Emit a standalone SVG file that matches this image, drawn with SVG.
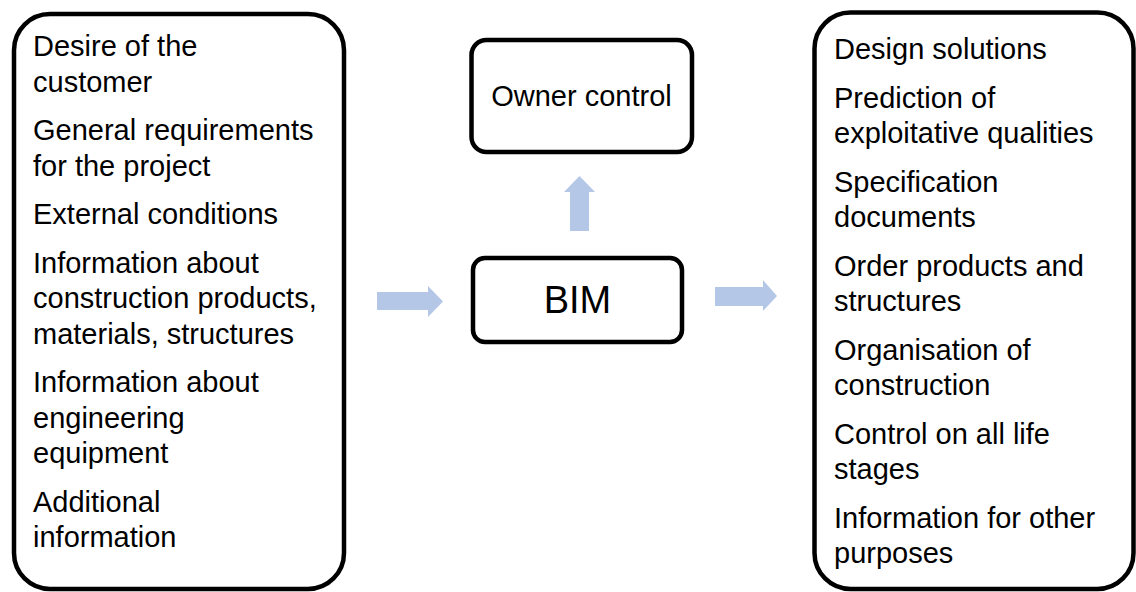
<svg xmlns="http://www.w3.org/2000/svg" width="1136" height="592" viewBox="0 0 1136 592">
<style>
.box{fill:#fff;stroke:#000;stroke-width:4.5}
.t{font-family:"Liberation Sans",Arial,sans-serif;font-size:29px;fill:#000}
.arr{fill:#B4C7E7}
</style>
<rect width="1136" height="592" fill="#fff"/>
<g id="inputs">
<rect class="box" x="14" y="14" width="330" height="575" rx="36"/>
<text class="t" x="33" y="56">Desire of the</text>
<text class="t" x="33" y="91.5">customer</text>
<text class="t" x="33" y="140">General requirements</text>
<text class="t" x="33" y="175.5">for the project</text>
<text class="t" x="33" y="224">External conditions</text>
<text class="t" x="33" y="272.5">Information about</text>
<text class="t" x="33" y="308">construction products,</text>
<text class="t" x="33" y="343.5">materials, structures</text>
<text class="t" x="33" y="392">Information about</text>
<text class="t" x="33" y="427.5">engineering</text>
<text class="t" x="33" y="463">equipment</text>
<text class="t" x="33" y="511.5">Additional</text>
<text class="t" x="33" y="547">information</text>
</g>
<g id="owner">
<rect class="box" x="471.5" y="40" width="220.5" height="112" rx="15"/>
<text class="t" x="581.5" y="106" text-anchor="middle">Owner control</text>
</g>
<g id="bim">
<rect class="box" x="473" y="258" width="209" height="84" rx="12"/>
<text class="t" x="577.5" y="313" text-anchor="middle" style="font-size:38px">BIM</text>
</g>
<g id="outputs">
<rect class="box" x="814.5" y="12.5" width="319" height="576.5" rx="36"/>
<text class="t" x="834" y="59">Design solutions</text>
<text class="t" x="834" y="107.5">Prediction of</text>
<text class="t" x="834" y="143">exploitative qualities</text>
<text class="t" x="834" y="191.5">Specification</text>
<text class="t" x="834" y="227">documents</text>
<text class="t" x="834" y="275.5">Order products and</text>
<text class="t" x="834" y="311">structures</text>
<text class="t" x="834" y="359.5">Organisation of</text>
<text class="t" x="834" y="395">construction</text>
<text class="t" x="834" y="443.5">Control on all life</text>
<text class="t" x="834" y="479">stages</text>
<text class="t" x="834" y="527.5">Information for other</text>
<text class="t" x="834" y="563">purposes</text>
</g>
<g id="connectors">
<polygon class="arr" points="377,292 428,292 428,286 443,301.5 428,317 428,310 377,310"/>
<polygon class="arr" points="715,287 763,287 763,280 777,296 763,311 763,306 715,306"/>
<polygon class="arr" points="570,231 570,192 564,192 579.5,176 595,192 589,192 589,231"/>
</g>
</svg>
